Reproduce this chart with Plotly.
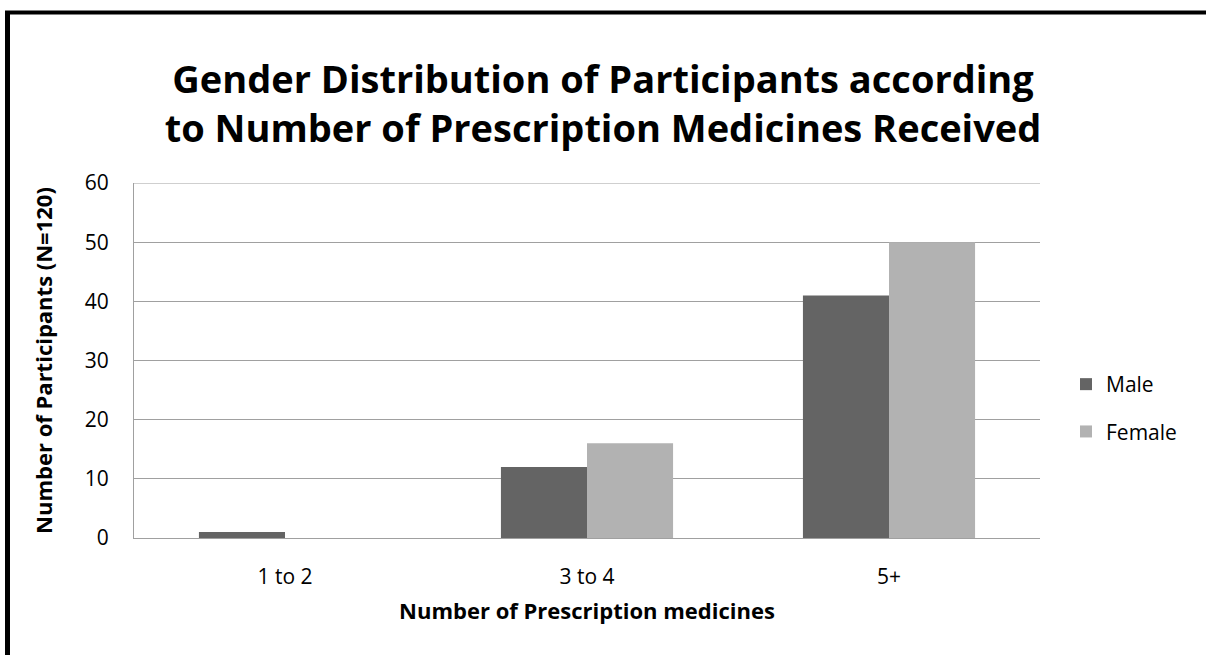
import plotly.graph_objects as go

categories = ["1 to 2", "3 to 4", "5+"]
male = [1, 12, 41]
female = [0, 16, 50]
y_ticks = [0, 10, 20, 30, 40, 50, 60]

W, H = 1206, 655
L, R, T, B = 134, 166, 183, 117
pw, ph = W - L - R, H - T - B

def px(x):
    return (x - L) / pw

def py(y):
    return (H - B - y) / ph

fig = go.Figure()
fig.add_trace(go.Bar(name="Male", x=categories, y=male, marker_color="#646464",
                     marker_line_width=0, legendgroup="m"))
fig.add_trace(go.Bar(name="Female", x=categories, y=female, marker_color="#b2b2b2",
                     marker_line_width=0, legendgroup="f"))

font_family = "Open Sans"
fig.update_layout(
    width=W, height=H,
    margin=dict(l=L, r=R, t=T, b=B),
    paper_bgcolor="white", plot_bgcolor="white",
    barmode="group", bargap=0.43, bargroupgap=0,
    font=dict(family=font_family, color="black", size=21),
    title=dict(
        text="<b>Gender Distribution of Participants according<br>to Number of Prescription Medicines Received</b>",
        x=0.5, xref="container", xanchor="center",
        y=1 - 93 / H, yref="container", yanchor="middle",
        font=dict(size=38, family=font_family, color="black"),
    ),
    xaxis=dict(
        showline=True, linecolor="#a0a0a0", linewidth=1,
        ticks="", tickfont=dict(size=21), ticklabelstandoff=20,
        title=dict(text="<b>Number of Prescription medicines</b>", font=dict(size=22), standoff=14),
    ),
    yaxis=dict(
        range=[0, 60], tickvals=y_ticks,
        showline=True, linecolor="#a0a0a0", linewidth=1,
        showgrid=True, gridcolor="#a0a0a0", gridwidth=1,
        zeroline=False, ticks="", tickfont=dict(size=21),
        ticklabelstandoff=20,
        title=dict(text="<b>Number of Participants (N=120)</b>", font=dict(size=22), standoff=26),
    ),
    legend=dict(
        x=px(1066), y=py(364), xanchor="left", yanchor="top",
        font=dict(size=21), tracegroupgap=17, itemwidth=30,
        bgcolor="rgba(0,0,0,0)",
    ),
    showlegend=True,
)

# top gridline at the range maximum
fig.add_shape(type="line", xref="paper", yref="y", x0=0, x1=1, y0=y_ticks[-1], y1=y_ticks[-1],
              line=dict(color="#a0a0a0", width=1), layer="below")

# frame (top and left edges visible)
fig.add_shape(type="line", xref="paper", yref="paper",
              x0=px(5), x1=px(1206), y0=py(12.5), y1=py(12.5),
              line=dict(color="black", width=4))
fig.add_shape(type="line", xref="paper", yref="paper",
              x0=px(7.5), x1=px(7.5), y0=py(11), y1=py(655),
              line=dict(color="black", width=5))

fig.write_html("out.html")
